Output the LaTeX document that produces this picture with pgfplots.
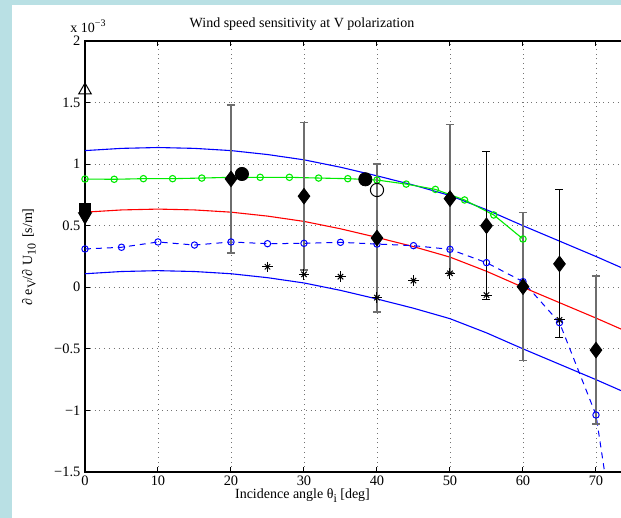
\documentclass[border=0pt]{standalone}
\usepackage{fontspec}
\setmainfont{Liberation Serif}
\usepackage{pgfplots}
\pgfplotsset{compat=1.18}
\usepackage{pgfplotstable}
\definecolor{bgblue}{RGB}{185,224,228}
\definecolor{mblue}{RGB}{0,0,255}
\definecolor{mred}{RGB}{255,0,0}
\definecolor{mgreen}{RGB}{0,235,0}
\definecolor{ebgray}{RGB}{110,110,110}
\newcommand\sub[1]{\raisebox{-0.55ex}{\fontsize{6}{7}\selectfont #1}}

\pgfplotstableread{
x y
0 1.110
5 1.128
10 1.135
15 1.128
20 1.110
25 1.078
30 1.035
35 0.975
40 0.905
45 0.830
50 0.745
55 0.630
60 0.500
65 0.375
70 0.250
75 0.120
}\tUpper
\pgfplotstableread{
x y
0 0.610
5 0.628
10 0.635
15 0.628
20 0.610
25 0.578
30 0.535
35 0.475
40 0.405
45 0.330
50 0.245
55 0.130
60 0.000
65 -0.125
70 -0.250
75 -0.380
}\tCenter
\pgfplotstableread{
x y
0 0.110
5 0.128
10 0.135
15 0.128
20 0.110
25 0.078
30 0.035
35 -0.025
40 -0.095
45 -0.170
50 -0.255
55 -0.370
60 -0.500
65 -0.625
70 -0.750
75 -0.880
}\tLower
\pgfplotstableread{
x y
0 0.879
4 0.877
8 0.882
12 0.882
16 0.887
20 0.893
24 0.893
28 0.893
32 0.887
36 0.882
40 0.871
44 0.838
48 0.795
52 0.709
56 0.587
60 0.392
}\tGreen
\pgfplotstableread{
x y
0 0.311
5 0.325
10 0.368
15 0.343
20 0.368
25 0.354
30 0.357
35 0.365
40 0.351
45 0.338
50 0.308
55 0.200
60 0.046
65 -0.287
70 -1.037
75 -3.000
}\tBlueDash
\pgfplotstableread{
x y e
20 0.880 0.6
30 0.740 0.6
40 0.400 0.6
50 0.720 0.6
60 0.005 0.6
70 -0.510 0.6
}\tGrayDiam
\pgfplotstableread{
x y e
55 0.500 0.6
65 0.190 0.6
}\tBlackDiam
\pgfplotstableread{
x y
25 0.167
30 0.105
35 0.086
40 -0.084
45 0.054
50 0.113
55 -0.063
60 -0.008
65 -0.265
}\tStars

\begin{document}
\begin{tikzpicture}[font=\fontsize{7}{8.5}\selectfont]
\fill[bgblue] (-42.5pt,-23pt) rectangle (268pt,236pt);
\fill[white] (-36.5pt,-23pt) rectangle (268pt,233.5pt);
\begin{axis}[
  at={(0,0)}, anchor=south west, scale only axis,
  width=273.75pt, height=215.5pt,
  xmin=0, xmax=75, ymin=-1.5, ymax=2,
  xtick={0,10,20,30,40,50,60,70},
  ytick={-1.5,-1,-0.5,0,0.5,1,1.5,2},
  yticklabels={−1.5,−1,−0.5,0,0.5,1,1.5,2},
  /pgf/number format/assume math mode=true,
  ticklabel style={font=\fontsize{7.2}{8.5}\selectfont},
  xticklabel style={yshift=1.6pt},
  yticklabel style={xshift=1.2pt},
  grid=major,
  grid style={dotted, black!55, line width=0.4pt},
  tick align=inside, tick pos=both,
  major tick length=2.5pt,
  tick style={black, line width=0.5pt},
  axis line style={line width=0.75pt},
]
\addplot[mblue, line width=0.55pt] table {\tUpper};
\addplot[mred, line width=0.55pt] table {\tCenter};
\addplot[mblue, line width=0.55pt] table {\tLower};
\addplot[mblue, line width=0.5pt, dash pattern=on 3pt off 2.5pt] table {\tBlueDash};
\addplot[mblue, only marks, mark=o, mark size=1.6pt, line width=0.5pt, restrict x to domain=0:70] table {\tBlueDash};
\addplot[mgreen, line width=0.55pt, mark=o, mark size=1.6pt, mark options={solid}] table {\tGreen};
% error bars
\addplot[only marks, mark=none, error bars/.cd, y dir=both, y explicit,
  error bar style={ebgray, line width=1pt},
  error mark options={rotate=90, ebgray, mark size=2pt, line width=0.7pt}]
  table[x=x, y=y, y error=e] {\tGrayDiam};
\addplot[only marks, mark=none, error bars/.cd, y dir=both, y explicit,
  error bar style={black, line width=0.5pt},
  error mark options={rotate=90, black, mark size=2pt, line width=0.5pt}]
  table[x=x, y=y, y error=e] {\tBlackDiam};
% stars
\addplot[only marks, black, mark=+, mark size=2.6pt, line width=0.5pt] table {\tStars};
\addplot[only marks, black, mark=x, mark size=1.9pt, line width=0.5pt] table {\tStars};
% diamonds
\addplot[only marks, black, mark=diamond*, mark size=3.9pt] table[x=x, y=y] {\tGrayDiam};
\addplot[only marks, black, mark=diamond*, mark size=3.9pt] table[x=x, y=y] {\tBlackDiam};
% big circles
\addplot[only marks, black, mark=*, mark size=3.3pt] coordinates {(21.5,0.92) (38.4,0.877)};
\addplot[only marks, black, mark=o, mark size=3.3pt, line width=0.5pt] coordinates {(40,0.79)};
% markers at 0
\addplot[only marks, black, mark=triangle, mark size=3.6pt, line width=0.5pt] coordinates {(0,1.60)};
\addplot[only marks, black, mark=square*, mark size=2.6pt] coordinates {(0,0.64)};
\addplot[only marks, black, mark=triangle*, mark size=3.8pt, mark options={rotate=180}] coordinates {(0,0.575)};
\end{axis}
\node[anchor=base] at (108.5pt,222pt) {Wind speed sensitivity at V polarization};
\node[anchor=base] at (108.75pt,-13.5pt) {Incidence angle θ\sub{i} [deg]};
\node[rotate=90] at (-28pt,107.5pt) {∂ e\sub{V}/∂ U\sub{10} \,[s/m]};
\node[anchor=base west, inner sep=0pt] at (-7.5pt,219.5pt) {x 10\textsuperscript{−3}};
\pgfresetboundingbox
\path[use as bounding box] (-42.5pt,-23pt) rectangle (268pt,236pt);
\end{tikzpicture}
\end{document}
